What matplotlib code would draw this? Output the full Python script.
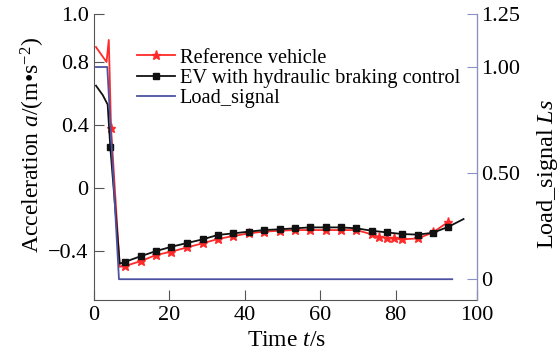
import matplotlib
matplotlib.use("Agg")
import matplotlib.pyplot as plt

plt.rcParams.update({
    "font.family": "Liberation Serif",
    "mathtext.fontset": "custom",
    "mathtext.rm": "Liberation Serif",
    "mathtext.it": "Liberation Serif:italic",
    "font.size": 16,
})

RED = "#ff2a2a"; BLK = "#111111"; NAVY = "#4c52a0"; RSPINE = "#8a90c8"; GREY = "#555555"

# reference vehicle acceleration (m/s^2)
ref_t = [0.5, 3.3, 3.9, 4.5, 6.8, 8.3, 12.5, 16.5, 20.5, 24.7, 28.8, 32.8, 36.9, 41.0, 45.1,
         49.2, 53.2, 57.3, 61.4, 65.4, 69.6, 73.6, 75.5, 77.7, 79.5, 81.7, 85.9, 89.9, 94.0]
ref_a = [0.895, 0.80, 0.94, 0.38, -0.50, -0.495, -0.463, -0.425, -0.404, -0.377, -0.351, -0.324,
         -0.305, -0.288, -0.277, -0.271, -0.267, -0.267, -0.267, -0.267, -0.267, -0.294, -0.310,
         -0.315, -0.320, -0.326, -0.320, -0.282, -0.214]
ref_marks = [3] + list(range(5, len(ref_t)))

# EV with hydraulic braking control
ev_t = [0.5, 2.3, 3.6, 4.3, 6.8, 8.3, 12.5, 16.5, 20.5, 24.7, 28.8, 32.8, 36.9, 41.0, 45.1,
        49.2, 53.2, 57.3, 61.4, 65.4, 69.6, 73.6, 77.7, 81.7, 85.9, 89.9, 94.0, 98.0]
ev_a = [0.65, 0.59, 0.53, 0.26, -0.48, -0.468, -0.432, -0.400, -0.373, -0.349, -0.326, -0.298,
        -0.288, -0.277, -0.267, -0.262, -0.256, -0.250, -0.250, -0.250, -0.256, -0.271, -0.282,
        -0.292, -0.296, -0.284, -0.246, -0.197]
ev_marks = [3] + list(range(5, len(ev_t) - 1))

# load signal (right axis)
load_t = [0.5, 3.5, 6.6, 95.0]
load_v = [1.0, 1.0, 0.0, 0.0]

fig = plt.figure(figsize=(5.6, 3.58), dpi=100)
ax = fig.add_axes([0.168, 0.162, 0.684, 0.799])
ax2 = ax.twinx()

l1, = ax.plot(ref_t, ref_a, color=RED, lw=1.3, marker="*", ms=6.5, markevery=ref_marks,
              label="Reference vehicle")
l2, = ax.plot(ev_t, ev_a, color=BLK, lw=1.3, marker="s", ms=4.5, markevery=ev_marks,
              label="EV with hydraulic braking control")
l3, = ax2.plot(load_t, load_v, color=NAVY, lw=1.3, label="Load_signal")

ax.set_xlim(0, 101.6)
ax.set_ylim(-0.711, 1.105)
ax2.set_ylim(-0.098, 1.234)

ax.set_xticks([0, 20, 40, 60, 80, 101.6])
ax.set_xticklabels(["0", "20", "40", "60", "80", "100"])
ax.set_yticks([-0.4, 0, 0.4, 0.8, 1.105])
ax.set_yticklabels(["\u22120.4", "0", "0.4", "0.8", "1.0"])
ax2.set_yticks([0, 0.5, 1.0, 1.25])
ax2.set_yticklabels(["0", "0.50", "1.00", "1.25"])

for a in (ax, ax2):
    a.spines["top"].set_visible(False)
ax.spines["left"].set_color(GREY)
ax.spines["bottom"].set_color(GREY)
ax2.spines["left"].set_visible(False)
ax2.spines["bottom"].set_visible(False)
ax2.spines["right"].set_color(RSPINE)
ax.tick_params(axis="both", direction="in", length=7, color=GREY, pad=4, labelsize=16)
ax2.tick_params(axis="y", direction="in", length=7, color=RSPINE, pad=3, labelsize=16)

ax.set_xlabel("Time $t$/s", fontsize=17)
ax.xaxis.set_label_coords(0.504, -0.105)
ax.set_ylabel("Acceleration $a$/(m\u2022s$^{-2}$)", fontsize=17)
ax.yaxis.set_label_coords(-0.122, 0.54)
ax2.set_ylabel("Load_signal $Ls$", fontsize=17.5)
ax2.yaxis.set_label_coords(1.151, 0.44)

ax.legend(handles=[l1, l2, l3], loc="upper left", bbox_to_anchor=(0.112, 0.88), frameon=False,
          handlelength=1.85, handletextpad=0.25, labelspacing=0.05, borderaxespad=0,
          borderpad=0, fontsize=14.7)

fig.savefig("out.png", dpi=100)
